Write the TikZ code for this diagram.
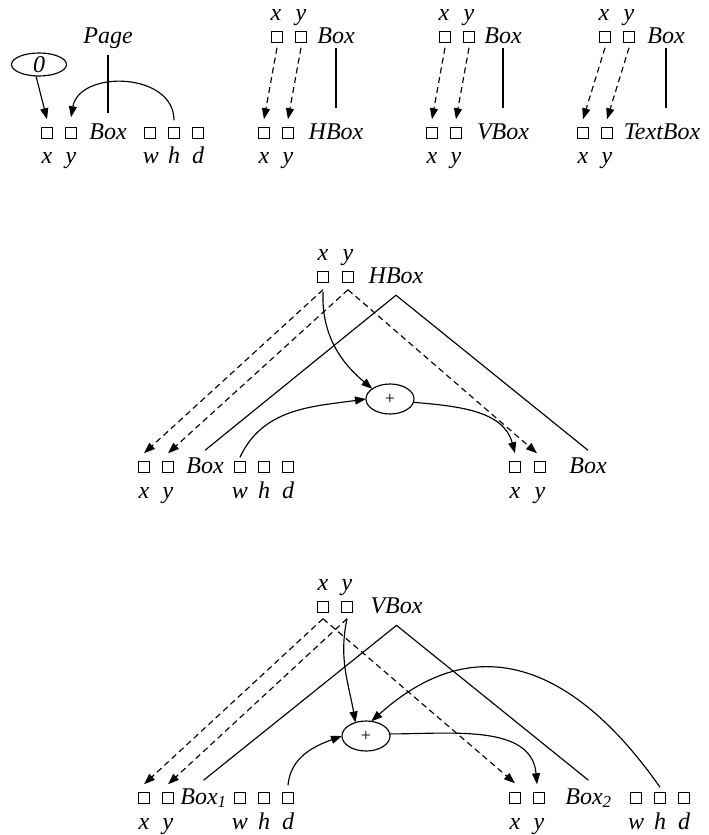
\documentclass[tikz,border=0pt]{standalone}
\usepackage{fontspec}
\setmainfont{Liberation Serif}
\usetikzlibrary{arrows.meta,shapes.geometric}
\begin{document}
\begin{tikzpicture}[x=1pt,y=-1pt,
  every node/.style={inner sep=0pt, outer sep=0pt},
  txt/.style={font=\fontsize{24}{24}\selectfont\itshape, anchor=base},
  slot/.style={draw, line width=1.1pt, minimum size=11.5pt},
  conn/.style={line width=1.15pt},
  arr/.style={conn, -{Triangle[length=11pt,width=8pt]}},
  darr/.style={arr, dash pattern=on 6pt off 4pt},
  oval/.style={draw, ellipse, line width=1.15pt},
  plus/.style={oval, minimum width=48pt, minimum height=30pt, font=\fontsize{18}{18}\selectfont}
]
\useasboundingbox (0,0) rectangle (709,835);

% ---------- Page / Box ----------
\node[oval, minimum width=55pt, minimum height=23pt, font=\fontsize{24}{24}\selectfont\itshape] (zero) at (39,64.5) {0};
\node[txt] (page) at (108,43) {Page};
\node[slot] (ax) at (47,133) {};
\node[slot] (ay) at (71,133) {};
\node[txt] (abox) at (108,139) {Box};
\node[slot] (aw) at (150,133) {};
\node[slot] (ah) at (174,133) {};
\node[slot] (ad) at (198,133) {};
\node[txt] (axl) at (47,163.5) {x};
\node[txt] (ayl) at (71,163.5) {y};
\node[txt] (awl) at (151,163.5) {w};
\node[txt] (ahl) at (174,163.5) {h};
\node[txt] (adl) at (198,163.5) {d};
\draw[conn, shorten <=7pt, shorten >=10pt] (page.south) -- (page.south |- abox.north);
\draw[arr] ([xshift=-3pt]zero.south) -- ([yshift=8pt]ax.north);
\draw[arr] ([yshift=7pt]ah.north) to[out=90,in=80,looseness=1.2] ([yshift=10pt]ay.north);

% ---------- Box / HBox ----------
\node[txt] (bxl0) at (276,20.5) {x};
\node[txt] (byl0) at (301,20.5) {y};
\node[slot] (btx) at (277,37) {};
\node[slot] (bty) at (301,37) {};
\node[txt] (bbox) at (336,43) {Box};
\node[slot] (bbx) at (264,133) {};
\node[slot] (bby) at (288,133) {};
\node[txt] (bhbox) at (336,139) {HBox};
\node[txt] (bxl) at (264,163.5) {x};
\node[txt] (byl) at (288,163.5) {y};
\draw[darr] ([yshift=-5pt]btx.south) -- ([yshift=8pt]bbx.north);
\draw[darr] ([yshift=-5pt]bty.south) -- ([yshift=8pt]bby.north);
\draw[conn, shorten <=5pt, shorten >=15pt] (bbox.south) -- (bbox.south |- bhbox.north);

% ---------- Box / VBox ----------
\node[txt] (cxl0) at (444,20.5) {x};
\node[txt] (cyl0) at (469,20.5) {y};
\node[slot] (ctx) at (445,37) {};
\node[slot] (cty) at (469,37) {};
\node[txt] (cbox) at (503,43) {Box};
\node[slot] (cbx) at (432,133) {};
\node[slot] (cby) at (456,133) {};
\node[txt] (cvbox) at (503,139) {VBox};
\node[txt] (cxl) at (432,163.5) {x};
\node[txt] (cyl) at (456,163.5) {y};
\draw[darr] ([yshift=-5pt]ctx.south) -- ([yshift=8pt]cbx.north);
\draw[darr] ([yshift=-5pt]cty.south) -- ([yshift=8pt]cby.north);
\draw[conn, shorten <=5pt, shorten >=15pt] (cbox.south) -- (cbox.south |- cvbox.north);

% ---------- Box / TextBox ----------
\node[txt] (dxl0) at (604,20.5) {x};
\node[txt] (dyl0) at (629,20.5) {y};
\node[slot] (dtx) at (605,37) {};
\node[slot] (dty) at (629,37) {};
\node[txt] (dbox) at (666,43) {Box};
\node[slot] (dbx) at (583,133) {};
\node[slot] (dby) at (607,133) {};
\node[txt] (dtbox) at (662,139) {TextBox};
\node[txt] (dxl) at (583,163.5) {x};
\node[txt] (dyl) at (607,163.5) {y};
\draw[darr] ([yshift=-5pt]dtx.south) -- ([yshift=8pt]dbx.north);
\draw[darr] ([yshift=-5pt]dty.south) -- ([yshift=8pt]dby.north);
\draw[conn, shorten <=5pt, shorten >=15pt] (dbox.south) -- (dbox.south |- dtbox.north);

% ---------- HBox layout ----------
\node[txt] (hxl) at (323,260.5) {x};
\node[txt] (hyl) at (348,260.5) {y};
\node[slot] (hx) at (323,277) {};
\node[slot] (hy) at (348,277) {};
\node[txt] (hb) at (396,283) {HBox};
\node[plus] (hp) at (390,399) {+};
\node[slot] (lx) at (144,467) {};
\node[slot] (ly) at (168,467) {};
\node[txt] (lb) at (205,473) {Box};
\node[slot] (lw) at (240,467) {};
\node[slot] (lh) at (264,467) {};
\node[slot] (ld) at (288,467) {};
\node[txt] (lxl) at (144,498) {x};
\node[txt] (lyl) at (168,498) {y};
\node[txt] (lwl) at (240,498) {w};
\node[txt] (lhl) at (264,498) {h};
\node[txt] (ldl) at (288,498) {d};
\node[slot] (rx) at (515,467) {};
\node[slot] (ry) at (540,467) {};
\node[txt] (rb) at (588,473) {Box};
\node[txt] (rxl) at (515,498) {x};
\node[txt] (ryl) at (540,498) {y};

\draw[conn] ([yshift=7pt]lb.north) -- ([yshift=-12pt]hb.south) -- ([yshift=7pt]rb.north);
\draw[darr] ([yshift=-7pt]hx.south) -- ([yshift=8pt]lx.north);
\draw[darr] ([yshift=-7pt]hy.south) -- ([yshift=8pt]ly.north);
\draw[darr] ([yshift=-7pt]hy.south) -- ([xshift=-3pt,yshift=8pt]ry.north);
\draw[arr] ([yshift=-9pt]hx.south) to[out=268,in=140] (hp.150);
\draw[arr] ([yshift=4pt]lw.north) to[out=65,in=188] (hp.west);
\draw[arr] (hp.-8) to[out=-5,in=105] ([yshift=8pt]rx.north);

% ---------- VBox layout ----------
\node[txt] (vxl) at (323,590.5) {x};
\node[txt] (vyl) at (347,590.5) {y};
\node[slot] (vx) at (323,607) {};
\node[slot] (vy) at (347,607) {};
\node[txt] (vb) at (396.5,613) {VBox};
\node[plus] (vp) at (366,736) {+};
\node[slot] (mx) at (144,798) {};
\node[slot] (my) at (168,798) {};
\node[txt] (mb) at (203.5,804) {Box\textsubscript{1}};
\node[slot] (mw) at (240,798) {};
\node[slot] (mh) at (264,798) {};
\node[slot] (md) at (288,798) {};
\node[txt] (mxl) at (144,829) {x};
\node[txt] (myl) at (168,829) {y};
\node[txt] (mwl) at (240,829) {w};
\node[txt] (mhl) at (264,829) {h};
\node[txt] (mdl) at (288,829) {d};
\node[slot] (nx) at (515,798) {};
\node[slot] (ny) at (539,798) {};
\node[txt] (nb) at (588.5,804) {Box\textsubscript{2}};
\node[slot] (nw) at (636,798) {};
\node[slot] (nh) at (660,798) {};
\node[slot] (nd) at (684,798) {};
\node[txt] (nxl) at (515,829) {x};
\node[txt] (nyl) at (539,829) {y};
\node[txt] (nwl) at (636,829) {w};
\node[txt] (nhl) at (660,829) {h};
\node[txt] (ndl) at (684,829) {d};

\draw[conn] ([yshift=8pt]mb.north) -- ([yshift=-12pt]vb.south) -- ([yshift=8pt]nb.north);
\draw[darr] ([yshift=-6pt]vx.south) -- ([yshift=8pt]mx.north);
\draw[darr] ([yshift=-6pt]vy.south) -- ([yshift=8pt]my.north);
\draw[darr] ([yshift=-6pt]vx.south) -- ([yshift=9pt]nx.north);
\draw[arr] ([yshift=-6pt]vy.south) to[out=258,in=100] (vp.128);
\draw[arr] ([yshift=5pt]nh.north) to[out=125,in=42,looseness=1.25] (vp.70);
\draw[arr] ([yshift=7pt]md.north) to[out=85,in=200] (vp.west);
\draw[arr] (vp.5) to[out=0,in=95] ([xshift=-2pt,yshift=8pt]ny.north);
\end{tikzpicture}
\end{document}
